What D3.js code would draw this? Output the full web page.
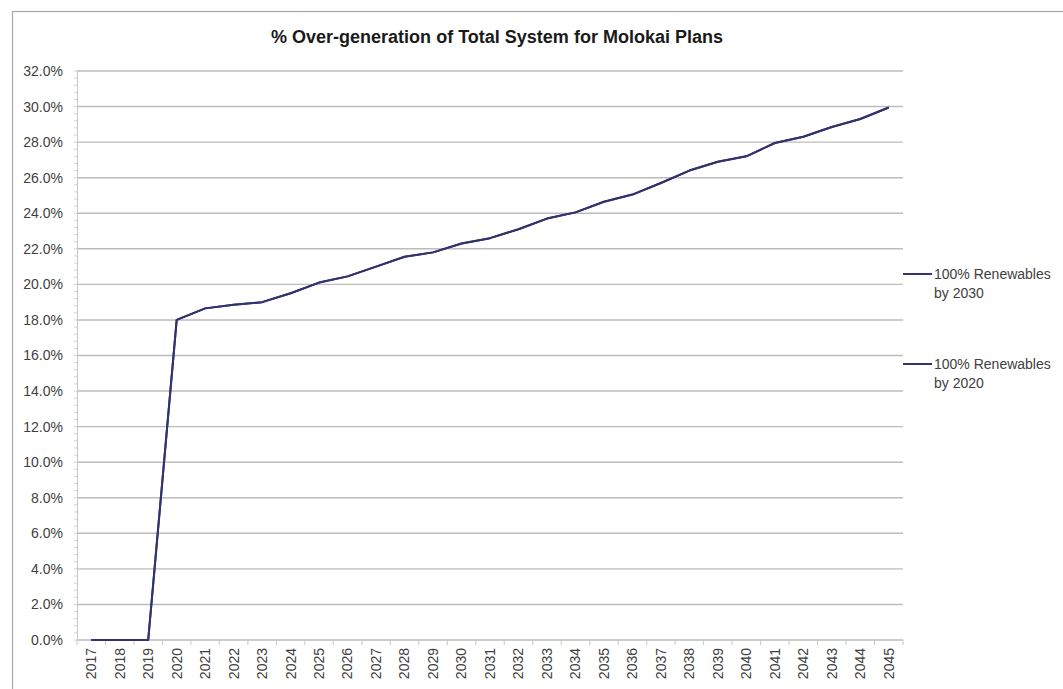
<!DOCTYPE html>
<html>
<head>
<meta charset="utf-8">
<script src="https://cdn.jsdelivr.net/npm/d3@7"></script>
<style>
  html, body { margin: 0; padding: 0; background: #fff; }
  svg { display: block; font-family: "Liberation Sans", Arial, sans-serif; }
</style>
</head>
<body>
<svg id="chart" width="1063" height="689"></svg>
<script>
const titleText = "% Over-generation of Total System for Molokai Plans";
const years = ["2017","2018","2019","2020","2021","2022","2023","2024","2025","2026",
  "2027","2028","2029","2030","2031","2032","2033","2034","2035","2036",
  "2037","2038","2039","2040","2041","2042","2043","2044","2045"];
// % over-generation (percent)
const renew2030 = [0, 0, 0, 18.0, 18.65, 18.85, 19.0, 19.5, 20.1, 20.45,
  21.0, 21.55, 21.8, 22.3, 22.6, 23.1, 23.7, 24.05, 24.65, 25.05,
  25.7, 26.4, 26.9, 27.2, 27.95, 28.3, 28.85, 29.3, 29.95];
const renew2020 = [0, 0, 0, 18.0, 18.65, 18.85, 19.0, 19.5, 20.1, 20.45,
  21.0, 21.55, 21.8, 22.3, 22.6, 23.1, 23.7, 24.05, 24.65, 25.05,
  25.7, 26.4, 26.9, 27.2, 27.95, 28.3, 28.85, 29.3, 29.95];
const seriesNames = [["100% Renewables", "by 2030"], ["100% Renewables", "by 2020"]];
const yTicks = [0, 2, 4, 6, 8, 10, 12, 14, 16, 18, 20, 22, 24, 26, 28, 30, 32];

(function () {
const svg = d3.select("#chart");
const pLeft = 77, pRight = 903, pTop = 71, pBottom = 640;

// outer chart border
svg.append("rect").attr("x", 12.5).attr("y", 11.5).attr("width", 1200).attr("height", 1000)
  .attr("fill", "none").attr("stroke", "#a8a8a8").attr("stroke-width", 1.2);

svg.append("text").attr("x", 497).attr("y", 43).attr("text-anchor", "middle")
  .attr("font-size", 18).attr("font-weight", "bold").attr("fill", "#1a1a1a")
  .attr("textLength", 452).attr("lengthAdjust", "spacingAndGlyphs")
  .text(titleText);

const x = d3.scaleBand().domain(years).range([pLeft, pRight]).padding(0);
const y = d3.scaleLinear().domain([0, 32]).range([pBottom, pTop]);

// gridlines
svg.append("g").selectAll("line").data(yTicks).join("line")
  .attr("x1", pLeft).attr("x2", pRight)
  .attr("y1", d => y(d)).attr("y2", d => y(d))
  .attr("stroke", "#bcbcbc").attr("stroke-width", 1.4);

// y axis
const yAxis = d3.axisLeft(y).tickValues(yTicks).tickSize(0).tickPadding(14)
  .tickFormat(d => d.toFixed(1) + "%");
const gy = svg.append("g").attr("transform", `translate(${pLeft},0)`).call(yAxis);
gy.select(".domain").attr("stroke", "#c8c8c8");
gy.selectAll("text").attr("font-size", 14).attr("fill", "#404040");

// minor ticks on y axis
const minor = d3.range(0, 32.001, 0.4);
svg.append("g").selectAll("line").data(minor).join("line")
  .attr("x1", pLeft - 3).attr("x2", pLeft)
  .attr("y1", d => y(d)).attr("y2", d => y(d))
  .attr("stroke", "#d0d0d0").attr("stroke-width", 1);

// x axis
const xAxis = d3.axisBottom(x).tickSize(0).tickPadding(8);
const gx = svg.append("g").attr("transform", `translate(0,${pBottom})`).call(xAxis);
gx.select(".domain").remove();
gx.selectAll("text").attr("font-size", 14).attr("fill", "#404040")
  .attr("transform", "rotate(-90)").attr("text-anchor", "end")
  .attr("x", -8).attr("y", 0).attr("dy", "0.35em");
// tick marks between categories
const bounds = years.map(d => x(d)).concat([pRight]);
svg.append("g").selectAll("line").data(bounds).join("line")
  .attr("x1", d => d).attr("x2", d => d)
  .attr("y1", pBottom).attr("y2", pBottom + 5)
  .attr("stroke", "#c8c8c8").attr("stroke-width", 1);

// lines
const line = d3.line().x((d, i) => x(years[i]) + x.bandwidth() / 2).y(d => y(d));
const colors = ["#34346e", "#32326c"];
[renew2030, renew2020].forEach((s, k) => {
  svg.append("path").datum(s).attr("d", line)
    .attr("fill", "none").attr("stroke", colors[k]).attr("stroke-width", 2)
    .attr("stroke-linejoin", "round");
});

// legend
const legY = [274, 364];
seriesNames.forEach((nm, k) => {
  const g = svg.append("g");
  g.append("line").attr("x1", 903).attr("x2", 932).attr("y1", legY[k]).attr("y2", legY[k])
    .attr("stroke", colors[k]).attr("stroke-width", 2);
  g.append("text").attr("x", 934).attr("y", legY[k]).attr("dy", "0.35em")
    .attr("font-size", 14).attr("fill", "#404040").text(nm[0]);
  g.append("text").attr("x", 934).attr("y", legY[k] + 19).attr("dy", "0.35em")
    .attr("font-size", 14).attr("fill", "#404040").text(nm[1]);
});
})();
</script>
</body>
</html>
